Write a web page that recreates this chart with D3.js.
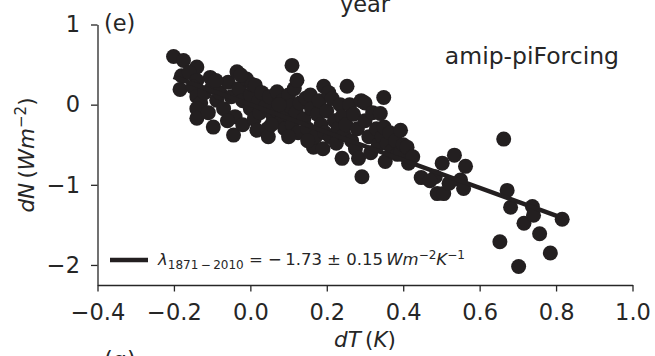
<!DOCTYPE html>
<html>
<head>
<meta charset="utf-8">
<script src="https://cdn.jsdelivr.net/npm/d3@7"></script>
<style>
  html, body { margin: 0; padding: 0; background: #fff; }
  svg { display: block; }
  text { font-family: "DejaVu Sans", sans-serif; fill: #262626; }
</style>
</head>
<body>
<svg id="chart" width="655" height="356"></svg>
<script>
// Annual anomalies 1871-2010: global-mean surface temperature change (K)
const dT = [
  -0.201, -0.175, -0.14, -0.184, -0.18, -0.16, -0.105, -0.14, -0.15, -0.14, -0.13, -0.14, -0.14, -0.12, -0.11, -0.10,
  -0.097, -0.088, -0.08, -0.07, -0.058, -0.05, -0.044, -0.04, -0.035, -0.03, -0.02, -0.02, -0.01, 0.0, 0.0, 0.005, 0.01, 0.013, 0.017, 0.02, 0.025, 0.03, -0.06, -0.09, -0.025,
  0.04, 0.045, 0.047, 0.05, 0.06, 0.07, 0.07, 0.08, 0.085, 0.09, 0.095, 0.10, 0.105, 0.109, 0.11, 0.115, 0.12, 0.122, 0.125, 0.13, 0.055, 0.075, 0.10,
  0.14, 0.145, 0.15, 0.157, 0.16, 0.165, 0.17, 0.175, 0.18, 0.185, 0.192, 0.195, 0.20, 0.205, 0.209, 0.214, 0.22, 0.225, 0.23, 0.235, 0.24, 0.24, 0.15, 0.19,
  0.245, 0.25, 0.253, 0.26, 0.265, 0.27, 0.275, 0.28, 0.283, 0.29, 0.292, 0.30, 0.30, 0.31, 0.315, 0.32, 0.33, 0.335, 0.34, 0.345, 0.349, 0.35, 0.353, 0.358, 0.365, 0.37, 0.38, 0.385, 0.393, 0.393, 0.40,
  0.41, 0.414, 0.447, 0.484, 0.489, 0.502, 0.506, 0.534, 0.55, 0.558, 0.563, 0.653, 0.663, 0.672, 0.681, 0.702, 0.716, 0.738, 0.741, 0.757, 0.785, 0.816, 0.52, 0.47, 0.425
];
// Matching top-of-atmosphere net radiative flux change (W m-2)
const dN = [
  0.60, 0.55, 0.47, 0.19, 0.36, 0.40, 0.34, 0.30, 0.22, 0.10, 0.02, -0.05, -0.17, 0.15, -0.10, 0.22,
  -0.28, 0.056, 0.15, -0.05, 0.28, 0.10, -0.38, -0.15, 0.41, 0.20, 0.05, -0.25, 0.32, -0.05, 0.12, 0.25, -0.18, 0.24, -0.32, 0.03, -0.10, 0.15, -0.20, 0.30, 0.37,
  -0.02, -0.30, -0.40, 0.10, -0.15, 0.16, -0.08, -0.22, 0.05, -0.30, -0.12, 0.12, -0.02, 0.49, -0.25, 0.20, -0.10, 0.305, -0.35, 0.02, -0.25, 0.0, -0.40,
  -0.18, 0.08, -0.30, 0.12, -0.05, -0.53, -0.40, -0.12, 0.05, -0.25, 0.23, -0.35, -0.08, 0.15, -0.40, 0.077, -0.20, -0.48, -0.30, 0.0, -0.67, -0.15, -0.45, -0.55,
  -0.38, -0.25, 0.23, 0.0, -0.45, -0.12, -0.55, -0.30, -0.67, 0.05, -0.90, 0.02, -0.20, -0.40, -0.60, -0.10, -0.30, -0.50, -0.11, -0.40, 0.09, -0.28, -0.71, -0.48, -0.35, -0.58, -0.45, -0.62, -0.32, -0.60, -0.50,
  -0.53, -0.73, -0.91, -0.90, -1.11, -0.73, -1.11, -0.63, -0.94, -1.045, -0.77, -1.71, -0.43, -1.07, -1.28, -2.02, -1.48, -1.27, -1.38, -1.61, -1.85, -1.43, -0.98, -0.95, -0.65
];

// Ordinary least-squares feedback fit
const slope = -1.73;
const slopeErr = 0.15;
const intercept = 0.0;

const xTicks = [-0.4, -0.2, 0.0, 0.2, 0.4, 0.6, 0.8, 1.0];
const yTicks = [-2, -1, 0, 1];
const xDomain = [-0.4, 1.0];
const yDomain = [-2.25, 1.0];

const ink = "#231f20";
const svg = d3.select("#chart");
svg.append("rect").attr("width", 655).attr("height", 356).attr("fill", "#fff");

const x = d3.scaleLinear().domain(xDomain).range([97.5, 632.5]);
const y = d3.scaleLinear().domain(yDomain).range([285, 24.5]);

// Text belonging to the neighbouring panels, clipped by the figure edge
svg.append("text").attr("x", 365).attr("y", 12).attr("text-anchor", "middle")
  .style("font-size", "22.5px").text("year");
svg.append("text").attr("x", 104).attr("y", 368)
  .style("font-size", "22.5px").text("(g)");

// Points
svg.append("g").selectAll("circle")
  .data(d3.range(dT.length))
  .join("circle")
  .attr("cx", i => x(dT[i]))
  .attr("cy", i => y(dN[i]))
  .attr("r", 7.5)
  .attr("fill", ink);

// Regression line across the data range
const [xmin, xmax] = d3.extent(dT);
svg.append("line")
  .attr("x1", x(xmin)).attr("y1", y(intercept + slope * xmin))
  .attr("x2", x(xmax)).attr("y2", y(intercept + slope * xmax))
  .attr("stroke", ink).attr("stroke-width", 4.5);

// Axes
const fmtX = d3.format(".1f");
const fmtY = d3.format("d");
const gx = svg.append("g").attr("transform", "translate(0,285)")
  .call(d3.axisBottom(x).tickValues(xTicks).tickFormat(fmtX).tickSize(6.5).tickSizeOuter(0).tickPadding(13));
const gy = svg.append("g").attr("transform", "translate(97.5,0)")
  .call(d3.axisLeft(y).tickValues(yTicks).tickFormat(fmtY).tickSize(6.5).tickSizeOuter(0).tickPadding(11));
[gx, gy].forEach(g => {
  g.select(".domain").attr("stroke", "#262626").attr("stroke-width", 1.3);
  g.selectAll(".tick line").attr("stroke", "#262626").attr("stroke-width", 1.3);
  g.selectAll(".tick text").attr("fill", "#262626")
    .style("font-family", "'DejaVu Sans', sans-serif").style("font-size", "22.5px");
});

// Axis titles
const xl = svg.append("text").attr("x", 365).attr("y", 347).attr("text-anchor", "middle")
  .style("font-size", "21.5px");
xl.append("tspan").style("font-style", "italic").text("dT");
xl.append("tspan").text("\u2009(");
xl.append("tspan").style("font-style", "italic").text("K");
xl.append("tspan").text(")");

const yl = svg.append("text").attr("transform", "translate(34,155) rotate(-90)")
  .attr("text-anchor", "middle").style("font-size", "21.5px");
yl.append("tspan").style("font-style", "italic").text("dN");
yl.append("tspan").text("\u2009(");
yl.append("tspan").style("font-style", "italic").text("Wm");
yl.append("tspan").attr("dy", -8).style("font-size", "15px").text("\u22122");
yl.append("tspan").attr("dy", 8).text(")");

// Panel label and experiment name
svg.append("text").attr("x", 104).attr("y", 31).style("font-size", "22.5px").text("(e)");
svg.append("text").attr("x", 619).attr("y", 64).attr("text-anchor", "end")
  .style("font-size", "23.5px").text("amip-piForcing");

// Legend
const leg = svg.append("g");
leg.append("line").attr("x1", 110).attr("x2", 148).attr("y1", 260).attr("y2", 260)
  .attr("stroke", ink).attr("stroke-width", 4.5);
const lt = leg.append("text").attr("x", 158).attr("y", 265).style("font-size", "16.5px");
lt.append("tspan").style("font-style", "italic").text("\u03bb");
lt.append("tspan").attr("dy", 4).style("font-size", "12px").text("1871\u2009\u2212\u20092010");
lt.append("tspan").attr("dy", -4).text(` = \u2212\u2009${Math.abs(slope).toFixed(2)} \u00b1 ${slopeErr.toFixed(2)}\u2009`);
lt.append("tspan").style("font-style", "italic").text("Wm");
lt.append("tspan").attr("dy", -6).style("font-size", "12px").text("\u22122");
lt.append("tspan").attr("dy", 6).style("font-style", "italic").text("K");
lt.append("tspan").attr("dy", -6).style("font-size", "12px").text("\u22121");
</script>
</body>
</html>
